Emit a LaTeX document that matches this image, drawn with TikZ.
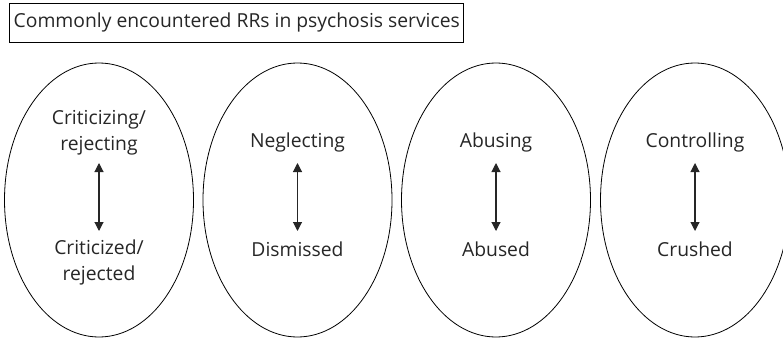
\documentclass[tikz,border=0pt]{standalone}
\usepackage{fontspec}
\setmainfont{Open Sans}
\usetikzlibrary{arrows.meta,shapes.geometric}
\tikzset{
  rr/.style={draw, ellipse, minimum width=189pt, minimum height=274pt, line width=0.8pt},
  lbl/.style={align=center, font=\fontsize{19.3}{26}\selectfont, text=black!85, inner sep=0pt},
  rel/.style={{Triangle[length=9pt,width=9pt]}-{Triangle[length=9pt,width=9pt]}, line width=1.1pt, black!85},
  ttl/.style={draw, line width=0.8pt, font=\fontsize{19.3}{22}\selectfont, text=black!85, inner xsep=4pt, minimum height=39pt, anchor=north west}
}
\begin{document}
\begin{tikzpicture}[x=1pt,y=-1pt]
\useasboundingbox (0,0) rectangle (783,342);
\clip (0,0) rectangle (783,342);
\node[ttl] (title) at (9.3,2.7) {Commonly encountered RRs in psychosis services};
\node[rr] (e1) at (99,200) {};
\node[rr] (e2) at (297.5,200) {};
\node[rr] (e3) at (496,200) {};
\node[rr] (e4) at (695,200) {};
\node[lbl] (t1) at (99,133) {Criticizing/\\rejecting};
\node[lbl] (b1) at (99,262) {Criticized/\\rejected};
\node[lbl] (t2) at (297.5,142) {Neglecting};
\node[lbl] (b2) at (297.5,249) {Dismissed};
\node[lbl] (t3) at (496,142) {Abusing};
\node[lbl] (b3) at (496,249) {Abused};
\node[lbl] (t4) at (695,142) {Controlling};
\node[lbl] (b4) at (695,249) {Crushed};
\coordinate (a1) at (99,163); \coordinate (c1) at (99,231);
\coordinate (a2) at (297.5,163); \coordinate (c2) at (297.5,231);
\coordinate (a3) at (496,163); \coordinate (c3) at (496,231);
\coordinate (a4) at (695,163); \coordinate (c4) at (695,231);
\foreach \i in {1,...,4}{\draw[rel] (a\i) -- (c\i);}
\end{tikzpicture}
\end{document}
